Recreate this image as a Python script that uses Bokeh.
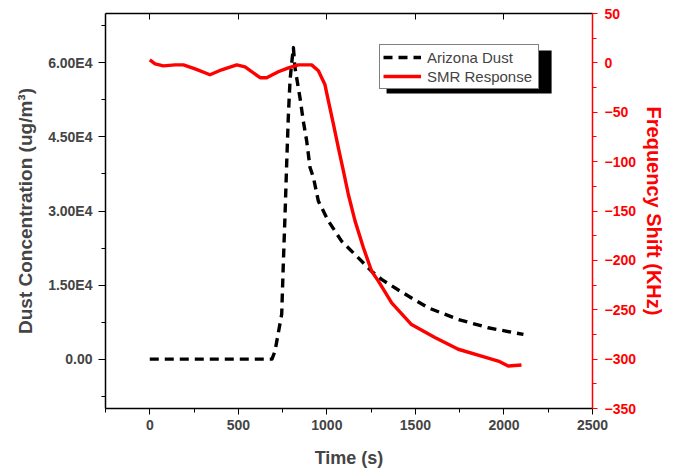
from bokeh.plotting import figure
from bokeh.models import (Range1d, LinearAxis, FixedTicker, CustomJSTickFormatter,
                          Legend, LegendItem, BoxAnnotation)
from bokeh.embed import file_html
from bokeh.resources import INLINE

# ---- data ----
dust_t = [0, 100, 200, 300, 400, 500, 600, 690, 707, 745, 754, 764, 773, 783, 792,
          801, 811, 820, 848, 867, 886, 905, 924, 952, 1008, 1083, 1178, 1253,
          1309, 1412, 1572, 1742, 1911, 2110]
dust_v = [0, 0, 0, 0, 0, 0, 0, 0, 1600, 9100, 19200, 29400, 39500, 49700, 56400,
          59800, 63100, 59000, 53000, 48200, 44200, 38800, 36800, 32000, 28000,
          23900, 20500, 17800, 16150, 13800, 10400, 8040, 6350, 5000]

smr_t = [0, 30, 77, 143, 190, 256, 340, 406, 491, 538, 623, 660, 726, 783, 839,
         914, 952, 989, 1008, 1037, 1065, 1093, 1121, 1159, 1206, 1253, 1291,
         1366, 1478, 1610, 1742, 1892, 1968, 2024, 2099]
smr_v = [3, -1, -3, -2, -2, -6, -12, -7, -2, -4, -15, -15, -9, -5, -2,
         -2, -8, -22, -38, -62, -86, -109, -133, -160, -187, -211, -221,
         -243, -265, -278, -290, -298, -302, -307, -306]

x_ticks = [0, 500, 1000, 1500, 2000, 2500]
x_minor = [-250, 250, 750, 1250, 1750, 2250]
left_ticks = [0, 15000, 30000, 45000, 60000]
left_minor = [-7500, 7500, 22500, 37500, 52500, 67500]
right_ticks = [-350, -300, -250, -200, -150, -100, -50, 0, 50]
right_minor = [-325, -275, -225, -175, -125, -75, -25, 25]

FONT = "Liberation Sans"

p = figure(width=670, height=472, output_backend="svg", toolbar_location=None,
           x_range=Range1d(-250, 2500), y_range=Range1d(-10000, 70000),
           min_border_left=105, min_border_right=78, min_border_top=13,
           min_border_bottom=64, background_fill_color="white",
           border_fill_color="white", outline_line_color=None)
p.xgrid.visible = False
p.ygrid.visible = False
p.extra_y_ranges = {"freq": Range1d(-350, 50)}

# bottom axis
xa = p.xaxis[0]
xa.ticker = FixedTicker(ticks=x_ticks, minor_ticks=x_minor)
xa.axis_label = "Time (s)"
xa.axis_label_text_font = FONT
xa.axis_label_text_font_style = "bold"
xa.axis_label_text_font_size = "18px"
xa.axis_label_standoff = 15
xa.major_label_text_font = FONT
xa.major_label_text_font_style = "bold"
xa.major_label_text_font_size = "14px"
xa.major_label_standoff = 5
xa.major_tick_in = 0
xa.major_tick_out = 6
xa.minor_tick_in = 0
xa.minor_tick_out = 4
xa.axis_line_color = "black"
xa.axis_line_width = 1.5

# left axis
ya = p.yaxis[0]
ya.ticker = FixedTicker(ticks=left_ticks, minor_ticks=left_minor)
ya.formatter = CustomJSTickFormatter(code="""
if (tick == 0) { return "0.00"; }
const e = Math.floor(Math.log10(Math.abs(tick)));
return (tick / Math.pow(10, e)).toFixed(2) + "E" + e;
""")
ya.axis_label = "Dust Concentration (ug/m³)"
ya.axis_label_text_font = FONT
ya.axis_label_text_font_style = "bold"
ya.axis_label_text_font_size = "19px"
ya.axis_label_standoff = 9
ya.major_label_text_font = FONT
ya.major_label_text_font_style = "bold"
ya.major_label_text_font_size = "14px"
ya.major_label_standoff = 6
ya.major_tick_in = 0
ya.major_tick_out = 7
ya.minor_tick_in = 0
ya.minor_tick_out = 4
ya.axis_line_width = 1.5

# right axis (red)
ra = LinearAxis(y_range_name="freq", axis_label="Frequency Shift (KHz)",
                ticker=FixedTicker(ticks=right_ticks, minor_ticks=right_minor))
ra.axis_label_text_font = FONT
ra.axis_label_text_font_style = "bold"
ra.axis_label_text_font_size = "20px"
ra.axis_label_text_color = "red"
ra.axis_label_standoff = 4
ra.major_label_text_font = FONT
ra.major_label_text_font_style = "bold"
ra.major_label_text_font_size = "14px"
ra.major_label_text_color = "red"
ra.major_label_standoff = 7
ra.axis_line_color = "red"
ra.axis_line_width = 1.5
ra.major_tick_line_color = "red"
ra.minor_tick_line_color = "red"
ra.major_tick_in = 0
ra.major_tick_out = 5
ra.minor_tick_in = 0
ra.minor_tick_out = 4
p.add_layout(ra, "right")

# top axis (frame line with inward ticks, no labels)
ta = LinearAxis(ticker=FixedTicker(ticks=x_ticks, minor_ticks=[]))
ta.major_label_text_font_size = "0px"
ta.major_label_text_color = None
ta.major_label_standoff = 0
ta.major_tick_in = 6
ta.major_tick_out = 0
ta.minor_tick_in = 0
ta.minor_tick_out = 0
ta.axis_line_width = 1.5
p.add_layout(ta, "above")

# data lines
r_dust = p.line(dust_t, dust_v, line_color="black", line_width=3.4, line_dash="9 6",
                line_join="round")
r_smr = p.line(smr_t, smr_v, line_color="red", line_width=3.4, y_range_name="freq",
               line_join="round")

# legend shadow
p.add_layout(BoxAnnotation(left=1337, right=2269, top=62500, bottom=53800,
                           fill_color="black", fill_alpha=1.0, line_color=None,
                           level="overlay"))

legend = Legend(items=[LegendItem(label="Arizona Dust", renderers=[r_dust]),
                       LegendItem(label="SMR Response", renderers=[r_smr])],
                location=(274, 319))
legend.border_line_color = "black"
legend.border_line_width = 1
legend.background_fill_color = "white"
legend.background_fill_alpha = 1.0
legend.label_text_font = FONT
legend.label_text_font_size = "15px"
legend.glyph_width = 38
legend.glyph_height = 18
legend.label_height = 18
legend.label_width = 108
legend.label_standoff = 6
legend.padding = 3
legend.spacing = 1
legend.margin = 0
p.add_layout(legend, "center")

open("out.html", "w").write(file_html(p, INLINE))
